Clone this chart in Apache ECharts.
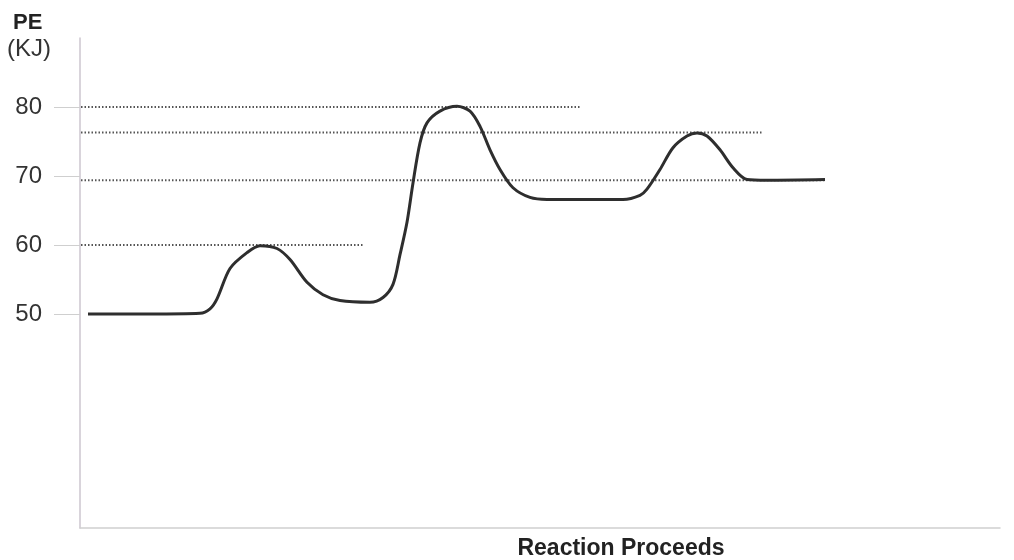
<!DOCTYPE html>
<html>
<head>
<meta charset="utf-8">
<script src="https://cdn.jsdelivr.net/npm/echarts@6/dist/echarts.min.js"></script>
<style>
html,body{margin:0;padding:0;background:#fff;}
#chart{width:1014px;height:560px;}
</style>
</head>
<body>
<div id="chart"></div>
<script>
// Reaction coordinate (arbitrary units along the x axis)
const curveX = [8,70,120,130,137,150,167,180,197,210,227,243,260,290,303,313,320,327,333,340,347,360,377,390,400,410,420,433,450,467,543,560,567,580,593,607,617,627,640,653,667,687,745];
// Potential energy (KJ)
const curveY = [50.0,50.0,50.1,50.75,52.2,56.6,58.9,59.9,59.5,57.9,54.6,52.8,51.95,51.7,52.4,54.3,58.6,63.3,69.0,74.8,77.7,79.4,80.1,79.4,77.2,73.8,70.95,68.3,66.9,66.6,66.6,67.2,68.1,70.95,74.1,75.8,76.25,75.8,73.8,71.2,69.5,69.4,69.5];
// Dotted reference levels and where each ends
const guideLevels = [80, 76.3, 69.4, 60];
const guideStartX = 1;
const guideEndX = [500, 682, 745, 283];
// Tick labels on the energy axis
const yTickValues = [50, 60, 70, 80];

const chart = echarts.init(document.getElementById('chart'), null, {renderer: 'canvas'});

const guideSeries = guideLevels.map((lvl, i) => ({
  type: 'line',
  data: [[guideStartX, lvl], [guideEndX[i], lvl]],
  symbol: 'none',
  silent: true,
  z: 1,
  lineStyle: {color: '#555', width: 2, type: [1.5, 2]}
}));

const option = {
  animation: false,
  backgroundColor: '#fff',
  grid: {left: 80, right: 14, top: 38, bottom: 32, outerBoundsMode: 'none', containLabel: false},
  xAxis: {
    type: 'value', min: 0, max: 920,
    axisLine: {show: true, lineStyle: {color: '#cfcfcf', width: 1.5}},
    axisTick: {show: false}, axisLabel: {show: false}, splitLine: {show: false}
  },
  yAxis: {
    type: 'value', min: 19, max: 90,
    axisLine: {show: true, lineStyle: {color: '#cdc6cf', width: 1.5}},
    axisTick: {show: true, length: 26, customValues: yTickValues, lineStyle: {color: '#cfcfcf', width: 1}},
    axisLabel: {show: true, customValues: yTickValues, margin: 38, color: '#333',
      fontSize: 24, fontFamily: 'Liberation Sans, Arial, sans-serif'},
    splitLine: {show: false}
  },
  graphic: [
    {type: 'text', left: 13, top: 12, style: {text: 'PE', fontSize: 22, fontWeight: 'bold', fill: '#222', fontFamily: 'Liberation Sans, Arial, sans-serif'}},
    {type: 'text', left: 7, top: 37, style: {text: '(KJ)', fontSize: 24, fill: '#333', fontFamily: 'Liberation Sans, Arial, sans-serif'}},
    {type: 'text', x: 621, y: 537, style: {text: 'Reaction Proceeds', fontSize: 23, fontWeight: 'bold', fill: '#222', align: 'center', verticalAlign: 'top', fontFamily: 'Liberation Sans, Arial, sans-serif'}}
  ],
  series: guideSeries.concat([{
    type: 'line',
    data: curveX.map((x, i) => [x, curveY[i]]),
    symbol: 'none',
    smooth: 0.3,
    z: 3,
    lineStyle: {color: '#2e2e2e', width: 3}
  }])
};
chart.setOption(option);
</script>
</body>
</html>
